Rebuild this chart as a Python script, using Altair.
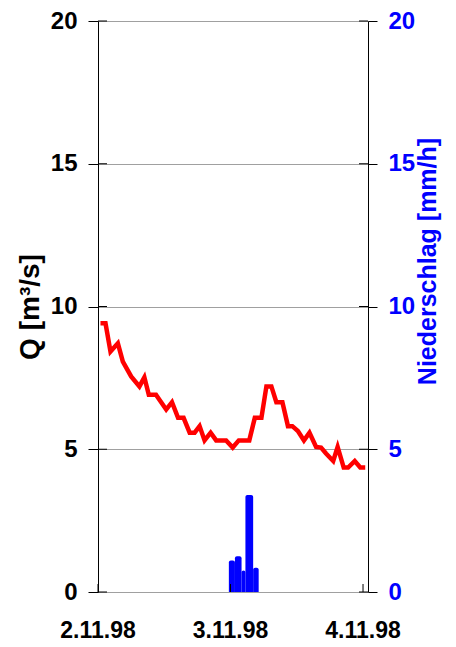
import altair as alt
import pandas as pd

# Discharge Q [m3/s] (hours since 2.11.98 00:00)
q_hours = [0.45, 1.36, 2.26, 3.6, 4.5, 6.0, 7.5, 8.4, 9.2, 10.5, 12.35, 13.4, 14.5, 15.5,
           16.6, 17.5, 18.4, 19.3, 20.4, 21.4, 23.2, 24.4, 25.5, 27.4, 28.4, 29.6, 30.5,
           31.4, 32.3, 33.4, 34.4, 35.2, 36.2, 37.3, 38.3, 39.5, 40.4, 41.3, 42.6, 43.4,
           44.5, 45.3, 46.5, 47.5, 48.4]
q_values = [9.41, 9.41, 8.42, 8.71, 8.07, 7.55, 7.20, 7.52, 6.91, 6.91, 6.39, 6.65, 6.10, 6.10,
            5.58, 5.58, 5.81, 5.31, 5.58, 5.31, 5.31, 5.06, 5.31, 5.31, 6.10, 6.10, 7.20,
            7.20, 6.65, 6.65, 5.81, 5.81, 5.64, 5.31, 5.58, 5.08, 5.06, 4.85, 4.59, 5.08,
            4.36, 4.36, 4.59, 4.36, 4.36]

# Precipitation [mm/h]
p_start = [23.7, 24.8, 26.0, 26.7, 28.1]
p_end = [24.8, 26.0, 26.7, 28.1, 29.1]
p_values = [1.10, 1.25, 0.75, 3.40, 0.85]

tick_hours = [0, 24, 48]
tick_labels = ["2.11.98", "3.11.98", "4.11.98"]
y_ticks = [0, 5, 10, 15, 20]

W, H = 270, 571
FONT = "Liberation Sans"
BLUE = "#0000ff"

q_df = pd.DataFrame({"h": q_hours, "q": q_values})
p_df = pd.DataFrame({"s": p_start, "e": p_end, "p": p_values})
yt_df = pd.DataFrame({"v": y_ticks})
xt_df = pd.DataFrame({"v": tick_hours, "lab": tick_labels})

xscale = alt.Scale(domain=[0, 48.9], nice=False, zero=False, padding=0)
qscale = alt.Scale(domain=[0, 20], nice=False, padding=0)
pscale = alt.Scale(domain=[0, 20], nice=False, padding=0)

x_axis = alt.Axis(values=tick_hours, labels=False, title=None, grid=False,
                  tickSize=8, domainColor="black", tickColor="black")

left_axis = alt.Axis(orient="left", values=y_ticks, title="Q [m³/s]", grid=True,
                     gridColor="#a0a0a0", gridWidth=1, tickSize=10, labelPadding=11,
                     labelFont=FONT, labelFontSize=24, labelFontWeight="bold",
                     labelColor="black", titleFont=FONT, titleFontSize=28,
                     titleFontWeight="bold", titleColor="black", titlePadding=6,
                     domainColor="black", tickColor="black")

right_axis = alt.Axis(orient="right", values=y_ticks, title="Niederschlag [mm/h]", grid=False,
                      tickSize=9, labelPadding=11, labelFont=FONT, labelFontSize=24,
                      labelFontWeight="bold", labelColor=BLUE, titleFont=FONT,
                      titleFontSize=25, titleFontWeight="bold", titleColor=BLUE,
                      titleAngle=270, titleBaseline="top", titlePadding=1, titleY=240,
                      domainColor="black", tickColor="black")

line = alt.Chart(q_df).mark_line(color="#ff0000", strokeWidth=4.5, strokeJoin="miter").encode(
    x=alt.X("h:Q", scale=xscale, axis=x_axis),
    y=alt.Y("q:Q", scale=qscale, axis=left_axis),
)

left_in = alt.Chart(yt_df).mark_rule(color="black", strokeWidth=1).encode(
    x=alt.value(0), x2=alt.value(9),
    y=alt.Y("v:Q", scale=qscale, axis=None),
)
right_in = alt.Chart(yt_df).mark_rule(color="black", strokeWidth=1).encode(
    x=alt.value(W - 9), x2=alt.value(W),
    y=alt.Y("v:Q", scale=qscale, axis=None),
)
bottom_in = alt.Chart(xt_df).mark_rule(color="black", strokeWidth=1).encode(
    x=alt.X("v:Q", scale=xscale, axis=None),
    y=alt.value(H - 8), y2=alt.value(H),
)
x_labels = alt.Chart(xt_df).mark_text(
    font=FONT, fontSize=23, fontWeight="bold", color="black", baseline="top", align="center"
).encode(
    x=alt.X("v:Q", scale=xscale, axis=None),
    y=alt.value(H + 28),
    text="lab:N",
)

bars = alt.Chart(p_df).mark_bar(color=BLUE, orient="vertical",
                                cornerRadiusTopLeft=2, cornerRadiusTopRight=2).encode(
    x=alt.X("s:Q", scale=xscale, axis=None),
    x2="e:Q",
    y=alt.Y("p:Q", scale=pscale, axis=right_axis),
    y2=alt.datum(0),
)

chart = alt.layer(line, bars, left_in, right_in, bottom_in, x_labels).resolve_scale(
    y="independent"
).properties(
    width=W, height=H,
    padding={"left": 90, "top": 13, "right": 80, "bottom": 50},
    autosize=alt.AutoSizeParams(type="none"),
    background="white",
).configure_view(stroke="transparent")

chart.save("out.html", embed_options={"renderer": "svg", "actions": False})
